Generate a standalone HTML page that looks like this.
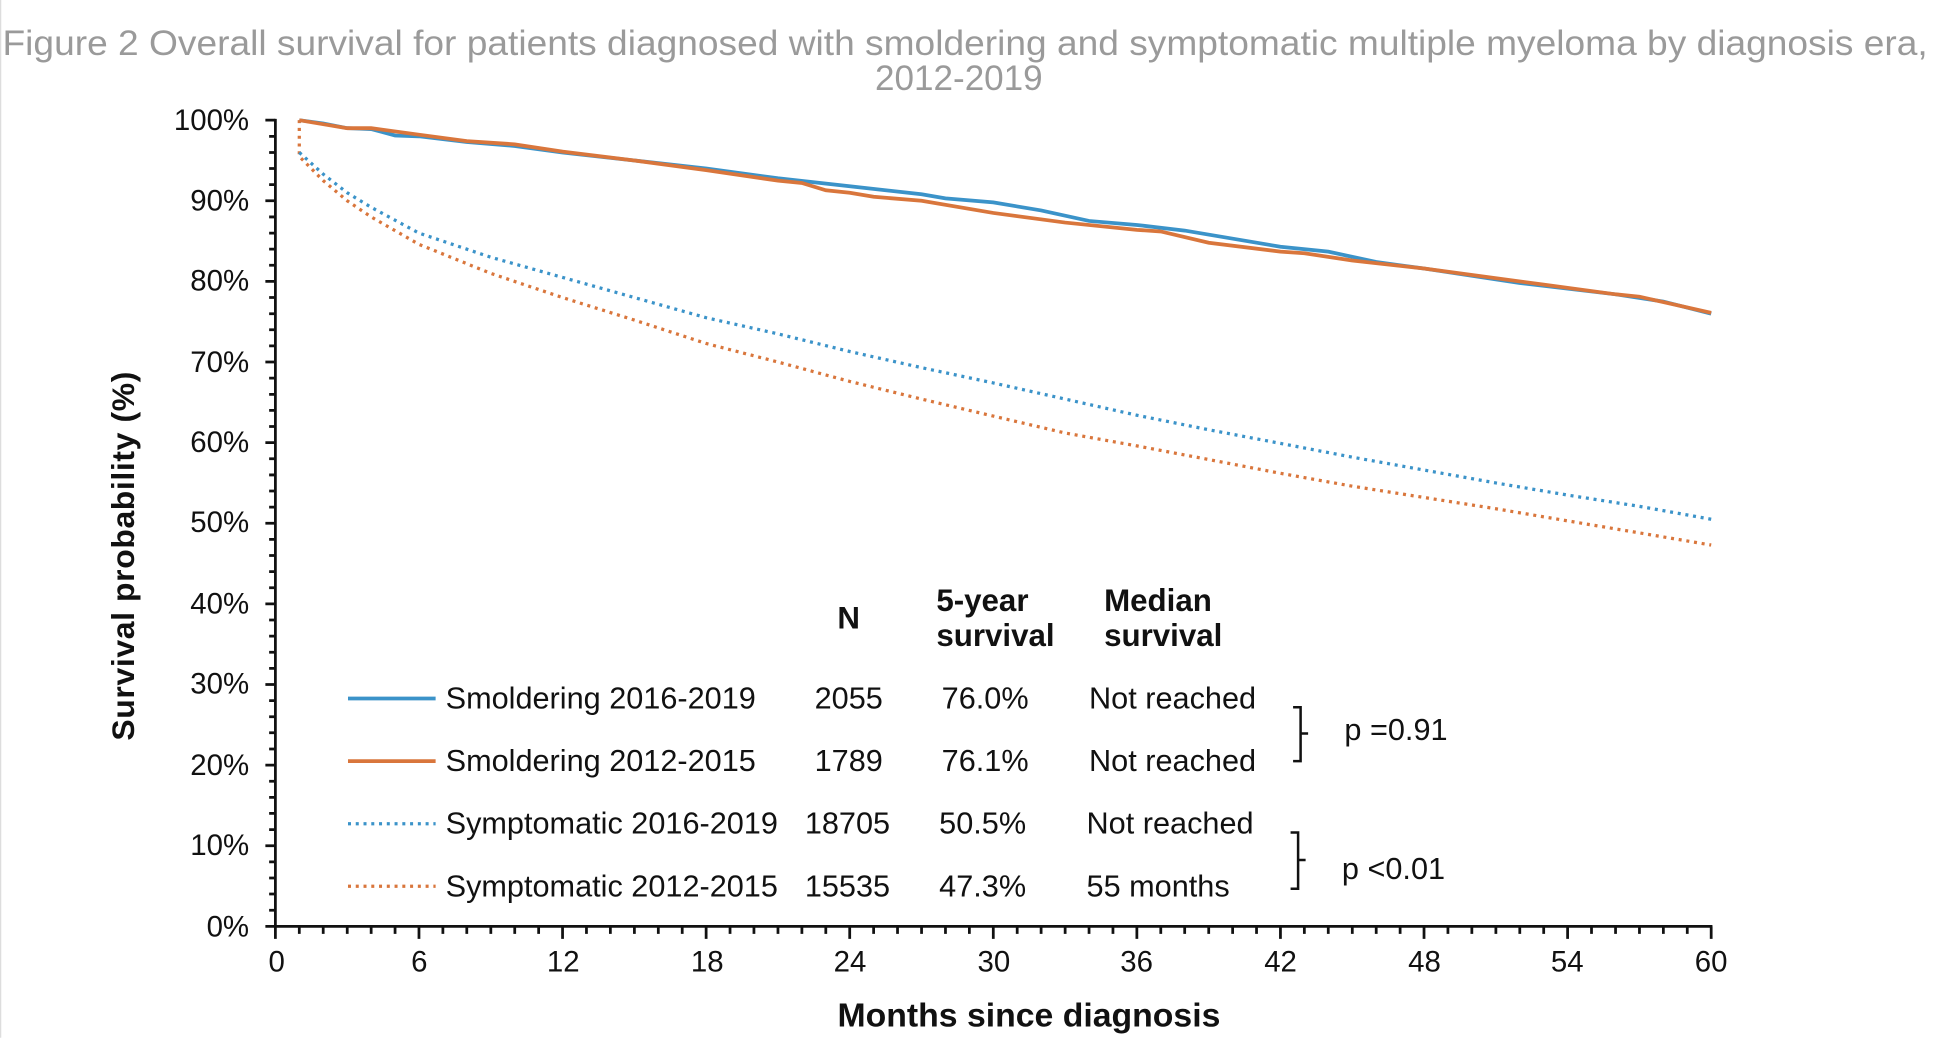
<!DOCTYPE html>
<html><head><meta charset="utf-8"><style>
html,body{margin:0;padding:0;background:#fff;width:1934px;height:1038px;overflow:hidden}
svg{display:block}
text{font-family:"Liberation Sans",Arial,sans-serif}
</style></head><body>
<svg width="1934" height="1038" viewBox="0 0 1545 829.2" preserveAspectRatio="none" xmlns="http://www.w3.org/2000/svg">
<rect width="1545" height="829.2" fill="#fff"/>
<line x1="0.5" y1="0" x2="0.5" y2="829" stroke="#ddd" stroke-width="1"/>
<text x="771" y="44" font-size="28" fill="#9a9a9a" text-anchor="middle" textLength="1538" lengthAdjust="spacingAndGlyphs">Figure 2 Overall survival for patients diagnosed with smoldering and symptomatic multiple myeloma by diagnosis era,</text>
<text x="766" y="72" font-size="28" fill="#9a9a9a" text-anchor="middle">2012-2019</text>

<g stroke="#111" stroke-width="2.2" fill="none">
<line x1="220" y1="95" x2="220" y2="741"/>
<line x1="219" y1="740" x2="1368" y2="740"/>
<path d="M212 96H220M212 160.4H220M212 224.8H220M212 289.2H220M212 353.6H220M212 418H220M212 482.4H220M212 546.8H220M212 611.2H220M212 675.6H220M212 740H220"/>
<path d="M215 108.9H220M215 121.8H220M215 134.6H220M215 147.5H220M215 173.3H220M215 186.2H220M215 199H220M215 211.9H220M215 237.7H220M215 250.6H220M215 263.4H220M215 276.3H220M215 302.1H220M215 315H220M215 327.8H220M215 340.7H220M215 366.5H220M215 379.4H220M215 392.2H220M215 405.1H220M215 430.9H220M215 443.8H220M215 456.6H220M215 469.5H220M215 495.3H220M215 508.2H220M215 521H220M215 533.9H220M215 559.7H220M215 572.6H220M215 585.4H220M215 598.3H220M215 624.1H220M215 637H220M215 649.8H220M215 662.7H220M215 688.5H220M215 701.4H220M215 714.2H220M215 727.1H220"/>
<path d="M220 740V750M334.7 740V750M449.4 740V750M564.1 740V750M678.8 740V750M793.5 740V750M908.2 740V750M1022.9 740V750M1137.6 740V750M1252.3 740V750M1367 740V750"/>
<path d="M239.1 740v6M258.2 740v6M277.4 740v6M296.5 740v6M315.6 740v6M353.8 740v6M372.9 740v6M392.1 740v6M411.2 740v6M430.3 740v6M468.5 740v6M487.6 740v6M506.8 740v6M525.9 740v6M545 740v6M583.2 740v6M602.3 740v6M621.5 740v6M640.6 740v6M659.7 740v6M697.9 740v6M717 740v6M736.2 740v6M755.3 740v6M774.4 740v6M812.6 740v6M831.7 740v6M850.9 740v6M870 740v6M889.1 740v6M927.3 740v6M946.4 740v6M965.6 740v6M984.7 740v6M1003.8 740v6M1042 740v6M1061.1 740v6M1080.3 740v6M1099.4 740v6M1118.5 740v6M1156.7 740v6M1175.8 740v6M1195 740v6M1214.1 740v6M1233.2 740v6M1271.4 740v6M1290.6 740v6M1309.7 740v6M1328.8 740v6M1347.9 740v6"/>
</g>

<g font-size="23.5" fill="#111" text-anchor="end">
<text x="199" y="104">100%</text><text x="199" y="168">90%</text><text x="199" y="232">80%</text><text x="199" y="297">70%</text><text x="199" y="361">60%</text><text x="199" y="425">50%</text><text x="199" y="490">40%</text><text x="199" y="554">30%</text><text x="199" y="619">20%</text><text x="199" y="683">10%</text><text x="199" y="748">0%</text>
</g>
<g font-size="23.5" fill="#111" text-anchor="middle">
<text x="221" y="776">0</text><text x="335" y="776">6</text><text x="450" y="776">12</text><text x="565" y="776">18</text><text x="679" y="776">24</text><text x="794" y="776">30</text><text x="908" y="776">36</text><text x="1023" y="776">42</text><text x="1138" y="776">48</text><text x="1252" y="776">54</text><text x="1367" y="776">60</text>
</g>
<text x="822" y="820" font-size="27" font-weight="bold" fill="#111" text-anchor="middle">Months since diagnosis</text>
<text transform="translate(107,444) rotate(-90)" font-size="25.5" font-weight="bold" fill="#111" text-anchor="middle" letter-spacing="0.5">Survival probability (%)</text>

<!-- curves -->
<polyline fill="none" stroke="#d9763c" stroke-width="2.6" stroke-dasharray="2.4 3.8" points="239.1,96 239.1,125 258.2,144.3 277.4,160.4 296.5,173.3 334.7,195.2 392.1,218.4 449.4,237.7 506.8,255.7 564.1,274.4 621.5,289.2 678.8,304.7 736.2,318.8 793.5,332.4 850.9,345.9 908.2,356.2 965.6,367.1 1022.9,378.1 1080.3,388.4 1137.6,397.4 1195,406.4 1252.3,416.1 1309.7,425.7 1367,435.4"/>
<polyline fill="none" stroke="#3b93c9" stroke-width="2.6" stroke-dasharray="2.4 3.8" points="239.1,121.8 258.2,139.1 277.4,154 296.5,165.6 334.7,186.2 392.1,205.5 449.4,221.6 506.8,237.7 564.1,253.8 621.5,266.7 678.8,280.8 736.2,293.7 793.5,305.9 850.9,318.8 908.2,331.7 965.6,343.3 1022.9,354.2 1080.3,365.2 1137.6,375.5 1195,385.8 1252.3,395.5 1309.7,404.5 1367,414.8"/>
<polyline fill="none" stroke="#3b93c9" stroke-width="3" points="239.1,96 258.2,98.6 277.4,102.4 296.5,103.1 315.6,108.2 334.7,108.9 372.9,113.4 411.2,116.6 449.4,121.8 506.8,128.2 564.1,134.6 621.5,142.4 678.8,148.8 736.2,155.2 755.3,158.5 793.5,161.7 831.7,168.1 870,176.5 908.2,179.7 946.4,184.2 1022.9,197.1 1061.1,201 1099.4,209.3 1137.6,214.5 1214.1,226.1 1290.6,235.1 1328.8,240.9 1367,250.6"/>
<polyline fill="none" stroke="#d9763c" stroke-width="3" points="239.1,96 277.4,102.4 296.5,102.4 334.7,107.6 372.9,112.7 411.2,115.3 449.4,121.1 506.8,128.2 564.1,135.9 621.5,144.3 640.6,146.2 659.7,152 678.8,154 697.9,157.2 736.2,160.4 793.5,170.1 850.9,177.8 908.2,183.6 927.3,184.9 965.6,193.9 1022.9,201 1042,202.3 1080.3,208.1 1137.6,214.5 1233.2,227.4 1290.6,235.1 1309.7,237 1367,249.9"/>

<!-- legend -->
<g font-size="24.5" fill="#111">
<text x="678" y="502" font-weight="bold" font-size="25" text-anchor="middle">N</text>
<text x="748" y="488" font-weight="bold" font-size="25">5-year</text>
<text x="748" y="516" font-weight="bold" font-size="25">survival</text>
<text x="882" y="488" font-weight="bold" font-size="25">Median</text>
<text x="882" y="516" font-weight="bold" font-size="25">survival</text>
<text x="356" y="566">Smoldering 2016-2019</text>
<text x="356" y="616">Smoldering 2012-2015</text>
<text x="356" y="666">Symptomatic 2016-2019</text>
<text x="356" y="716">Symptomatic 2012-2015</text>
<g text-anchor="middle">
<text x="678" y="566">2055</text><text x="678" y="616">1789</text><text x="677" y="666">18705</text><text x="677" y="716">15535</text>
<text x="787" y="566">76.0%</text><text x="787" y="616">76.1%</text><text x="785" y="666">50.5%</text><text x="785" y="716">47.3%</text>
</g>
<text x="870" y="566">Not reached</text><text x="870" y="616">Not reached</text><text x="868" y="666">Not reached</text><text x="868" y="716">55 months</text>
<text x="1074" y="591">p =0.91</text>
<text x="1072" y="702">p &lt;0.01</text>
</g>
<line x1="278" y1="558" x2="348" y2="558" stroke="#3b93c9" stroke-width="3"/>
<line x1="278" y1="608" x2="348" y2="608" stroke="#d9763c" stroke-width="3"/>
<line x1="278" y1="658" x2="348" y2="658" stroke="#3b93c9" stroke-width="2.6" stroke-dasharray="2.4 3.8"/>
<line x1="278" y1="708" x2="348" y2="708" stroke="#d9763c" stroke-width="2.6" stroke-dasharray="2.4 3.8"/>
<g stroke="#111" stroke-width="2" fill="none">
<path d="M1033 565H1039V608H1033M1039 586H1045"/>
<path d="M1031 665H1037V710H1031M1037 687H1043"/>
</g>
</svg>
</body></html>
